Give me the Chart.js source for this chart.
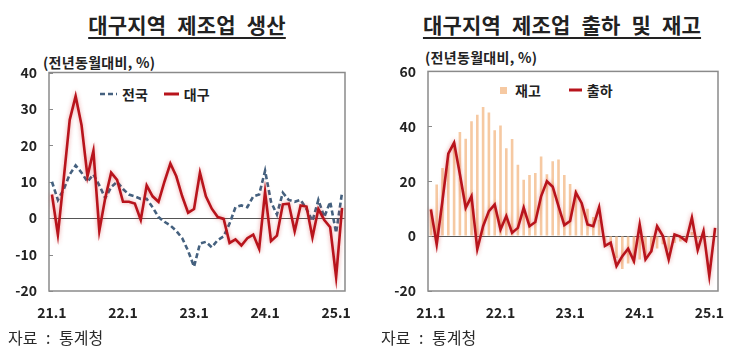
<!DOCTYPE html>
<html>
<head>
<meta charset="utf-8">
<script src="https://cdn.jsdelivr.net/npm/chart.js@4.4.1/dist/chart.umd.min.js"></script>
<style>
  body { margin: 0; width: 746px; height: 359px; background: #fff; position: relative; overflow: hidden;
         font-family: "Noto Sans CJK KR", "Noto Sans", sans-serif; color: #222; }
  .abs { position: absolute; white-space: nowrap; }
  .title { font-size: 21px; font-weight: 700; text-decoration: underline; text-decoration-thickness: 2px;
           text-underline-offset: 4px; transform: translateX(-50%); top: 9px; letter-spacing: 0.2px; word-spacing: 6px; }
  .unit { font-size: 14px; font-weight: 700; letter-spacing: 0.3px; }
  .src { font-size: 16px; color: #2a2a2a; word-spacing: 5px; }
  .leg { font-size: 14px; font-weight: 700; display: flex; align-items: center; }
  .leg span { margin-left: 5px; }
</style>
</head>
<body>
<div class="abs title" style="left:187px">대구지역 제조업 생산</div>
<div class="abs title" style="left:562px">대구지역 제조업 출하 및 재고</div>
<div class="abs unit" style="left:43px;top:52px">(전년동월대비, %)</div>
<div class="abs unit" style="left:425px;top:47px">(전년동월대비, %)</div>

<div class="abs leg" style="left:100px;top:84px">
  <svg width="17" height="4"><line x1="0" y1="2" x2="17" y2="2" stroke="#45617f" stroke-width="2.5" stroke-dasharray="5,3"/></svg>
  <span>전국</span>
  <svg width="15" height="4" style="margin-left:16px"><line x1="0" y1="2" x2="15" y2="2" stroke="#b8141c" stroke-width="3"/></svg>
  <span>대구</span>
</div>
<div class="abs leg" style="left:500px;top:80px">
  <svg width="7" height="7"><rect width="7" height="7" fill="#f6c9a2"/></svg>
  <span style="margin-left:8px">재고</span>
  <svg width="13" height="4" style="margin-left:28px"><line x1="0" y1="2" x2="13" y2="2" stroke="#b8141c" stroke-width="3"/></svg>
  <span>출하</span>
</div>

<div class="abs" style="left:0;top:60px"><canvas id="prod" width="365" height="270"></canvas></div>
<div class="abs" style="left:373px;top:60px"><canvas id="ship" width="373" height="270"></canvas></div>

<div class="abs src" style="left:8px;top:325px">자료 : 통계청</div>
<div class="abs src" style="left:381px;top:325px">자료 : 통계청</div>

<script>
// months 21.1 ~ 25.2
const months = [];
for (let y = 21; y <= 25; y++) {
  for (let m = 1; m <= 12; m++) {
    if (y === 25 && m > 2) break;
    months.push(y + "." + m);
  }
}
const tickLabels = ["21.1", "22.1", "23.1", "24.1", "25.1"];

// 제조업 생산 (전년동월대비, %)
const nationProd = [10, 5, 8, 12, 14.5, 12.5, 10, 12, 9, 5.5, 8.5, 10,
  8, 6.5, 6, 5.3, 5.3, 3, 0.3, -1, -2, -3.5, -5.5, -9,
  -13.3, -7, -6.5, -8, -6, -5, -1.5, 3, 3.5, 3, 6, 6.5,
  13, 4.5, 1, 7, 5, 4.5, 5, 2.5, -0.8, 5, 0.3, 4.5,
  -4, 7];
const daeguProd = [6.5, -4.5, 11, 27, 33.5, 25.5, 11.5, 18.5, -3.5, 5.5, 12.5, 10.5,
  4.5, 4.5, 4, -0.5, 9, 6, 4.5, 10, 15, 11.5, 6, 1.5,
  2.5, 12.5, 6, 2.6, 0.3, -0.2, -6.8, -5.8, -7.5, -5.5, -4.5, -8.4,
  7.2, -6.3, -4.8, 3.8, 4, -3.6, 3.5, 3.2, -5.3, 2.5, -0.5, -2.5,
  -16.2, 2.8];

// 출하 / 재고 (전년동월대비, %)
const daeguShip = [9.7, -3, 13, 30, 34, 22.5, 10.3, 14.5, -4.8, 3.6, 9.1, 11.5,
  2.4, 7.3, 1.2, 3, 10.3, 3.6, 5.1, 14.5, 20, 18, 10.9, 4,
  5.5, 15.8, 12, 4.2, 3.6, 10.5, -3.6, -2.4, -10.9, -7.3, -4.6, -9.1,
  4.2, -8.5, -5.5, 3.6, 0, -8.5, 0.6, -0.2, -1.8, 6.7, -5.1, 1.8,
  -14.5, 3];
const daeguInv = [10, 18.8, 24.8, 30, 34, 37.9, 35.5, 41.8, 44.2, 47, 45, 38.6,
  40.3, 32, 35.4, 26, 20.5, 22.3, 23, 29, 22.5, 27.3, 27.9, 22.3,
  19, 17, 12, 10, 7, 6, -2, -4, -8, -12, -10, -10,
  -8.5, -7, -6, -4.5, -3, -5, -2.5, -2, -1.2, 1.5, -1, 1,
  -0.5, 0];

const RED = "#b8141c";
const BLUE = "#45617f";
const PEACH = "#f6c9a2";

// box around plot + small inner ticks on y axis
const framePlugin = {
  id: "frame",
  beforeDatasetsDraw(chart) {
    const { ctx, chartArea: a, scales } = chart;
    ctx.save();
    ctx.strokeStyle = "#8a8a8a";
    ctx.lineWidth = 1.5;
    ctx.strokeRect(a.left, a.top, a.right - a.left, a.bottom - a.top);
    ctx.lineWidth = 1;
    scales.y.ticks.forEach(t => {
      const py = Math.round(scales.y.getPixelForValue(t.value)) + 0.5;
      ctx.beginPath();
      ctx.moveTo(a.left, py);
      ctx.lineTo(a.left + 4, py);
      ctx.stroke();
    });
    ctx.restore();
  },
  beforeDatasetDraw(chart, args) {
    if (args.meta.type === "line" && chart.data.datasets[args.index].glow) {
      chart.ctx.save();
      chart.ctx.shadowColor = "rgba(210, 40, 40, 0.45)";
      chart.ctx.shadowBlur = 4;
    }
  },
  afterDatasetDraw(chart, args) {
    if (args.meta.type === "line" && chart.data.datasets[args.index].glow) {
      chart.ctx.restore();
    }
  }
};

function xAxis() {
  return {
    offset: true,
    grid: { display: false },
    border: { display: false },
    ticks: {
      autoSkip: false, maxRotation: 0, minRotation: 0, padding: 5,
      color: "#222", font: { size: 14, weight: "bold" },
      callback: (v, i) => (tickLabels.includes(months[i]) ? months[i] : "")
    },
    afterFit: s => { s.height = 39; }
  };
}

function yAxis(min, max, step, w) {
  return {
    min: min, max: max,
    border: { display: false },
    grid: {
      tickLength: 9,
      tickColor: "rgba(0,0,0,0)",
      color: c => (c.tick && c.tick.value === 0 ? "#555" : "rgba(0,0,0,0)")
    },
    ticks: { stepSize: step, padding: 3, color: "#222", font: { size: 14, weight: "bold" } },
    afterFit: s => { s.width = w; }
  };
}

Chart.defaults.font.family = '"Noto Sans CJK KR", "Noto Sans", sans-serif';
Chart.defaults.animation = false;

new Chart(document.getElementById("prod"), {
  type: "line",
  data: {
    labels: months,
    datasets: [
      { label: "대구", data: daeguProd, borderColor: RED, borderWidth: 2.6, pointRadius: 0, tension: 0, glow: true },
      { label: "전국", data: nationProd, borderColor: BLUE, borderWidth: 2.6, borderDash: [5, 3], pointRadius: 0, tension: 0 }
    ]
  },
  options: {
    responsive: false,
    layout: { padding: { top: 12.5, right: 20, left: 0, bottom: 0 } },
    plugins: { legend: { display: false }, tooltip: { enabled: false } },
    scales: { x: xAxis(), y: yAxis(-20, 40, 10, 49) }
  },
  plugins: [framePlugin]
});

new Chart(document.getElementById("ship"), {
  type: "bar",
  data: {
    labels: months,
    datasets: [
      { type: "line", label: "출하", data: daeguShip, borderColor: RED, borderWidth: 2.6, pointRadius: 0, tension: 0, glow: true, order: 0 },
      { type: "bar", label: "재고", data: daeguInv, backgroundColor: PEACH, barPercentage: 0.45, categoryPercentage: 1, order: 1 }
    ]
  },
  options: {
    responsive: false,
    layout: { padding: { top: 10, right: 28, left: 0, bottom: 0 } },
    plugins: { legend: { display: false }, tooltip: { enabled: false } },
    scales: { x: xAxis(), y: yAxis(-20, 60, 20, 55) }
  },
  plugins: [framePlugin]
});
</script>
</body>
</html>
